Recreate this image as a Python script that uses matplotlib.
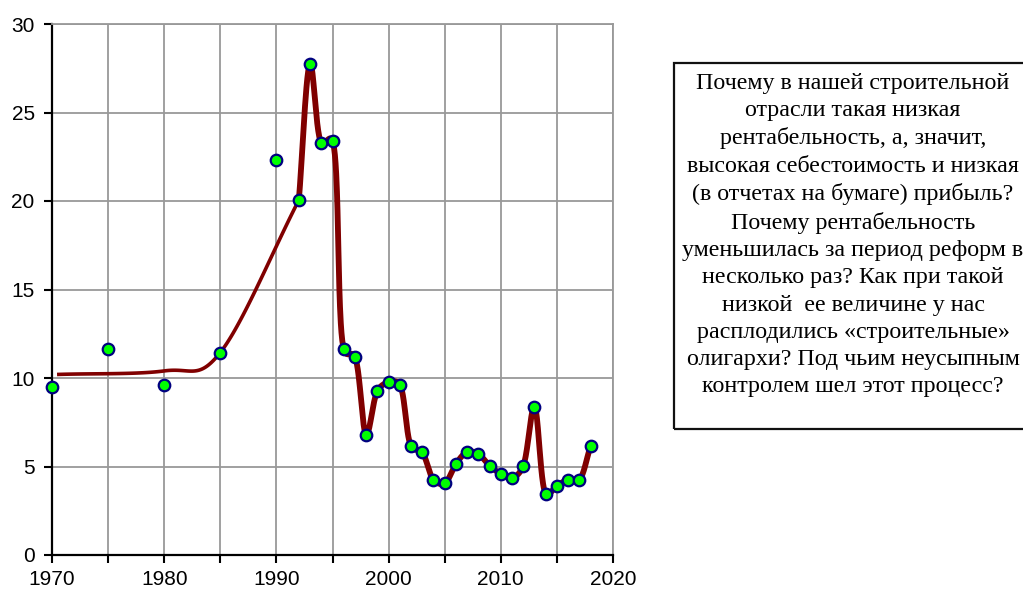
import numpy as np
import matplotlib
matplotlib.use("Agg")
import matplotlib.pyplot as plt
from matplotlib.patches import Rectangle

# values
point_years = [1970, 1975, 1980, 1985, 1990, 1992, 1993, 1994, 1995, 1996, 1997,
               1998, 1999, 2000, 2001, 2002, 2003, 2004, 2005, 2006, 2007, 2008,
               2009, 2010, 2011, 2012, 2013, 2014, 2015, 2016, 2017, 2018]
point_vals = [9.5, 11.65, 9.6, 11.44, 22.3, 20.05, 27.75, 23.28, 23.4, 11.65, 11.2,
              6.8, 9.27, 9.75, 9.62, 6.15, 5.8, 4.25, 4.04, 5.15, 5.82, 5.71,
              5.04, 4.59, 4.35, 5.04, 8.38, 3.47, 3.92, 4.25, 4.25, 6.16]

# thin trend curve (early years)
trend_years = [1970.45, 1980, 1985, 1992]
trend_vals = [10.2, 10.4, 11.44, 20.05]

# thick line: annual series from 1992
line_years = point_years[5:]
line_vals = point_vals[5:]

x_ticks = [1970, 1980, 1990, 2000, 2010, 2020]
y_ticks = [0, 5, 10, 15, 20, 25, 30]

note = ("Почему в нашей строительной\n"
        "отрасли такая низкая\n"
        "рентабельность, а, значит,\n"
        "высокая себестоимость и низкая\n"
        "(в отчетах на бумаге) прибыль?\n"
        "Почему рентабельность\n"
        "уменьшилась за период реформ в\n"
        "несколько раз? Как при такой\n"
        "низкой  ее величине у нас\n"
        "расплодились «строительные»\n"
        "олигархи? Под чьим неусыпным\n"
        "контролем шел этот процесс?")


def smooth(xs, ys, alpha=0.0, n=40):
    # smoothed line, Catmull-Rom in screen-like units
    sx, sy = 11.22, 17.7
    P = np.column_stack([np.asarray(xs, float) * sx, np.asarray(ys, float) * sy])
    P = np.vstack([2 * P[0] - P[1], P, 2 * P[-1] - P[-2]])
    out = []
    for i in range(1, len(P) - 2):
        p0, p1, p2, p3 = P[i - 1], P[i], P[i + 1], P[i + 2]
        t0 = 0.0
        t1 = t0 + np.linalg.norm(p1 - p0) ** alpha
        t2 = t1 + np.linalg.norm(p2 - p1) ** alpha
        t3 = t2 + np.linalg.norm(p3 - p2) ** alpha
        t = np.linspace(t1, t2, n)[:, None]
        a1 = (t1 - t) / (t1 - t0) * p0 + (t - t0) / (t1 - t0) * p1
        a2 = (t2 - t) / (t2 - t1) * p1 + (t - t1) / (t2 - t1) * p2
        a3 = (t3 - t) / (t3 - t2) * p2 + (t - t2) / (t3 - t2) * p3
        b1 = (t2 - t) / (t2 - t0) * a1 + (t - t0) / (t2 - t0) * a2
        b2 = (t3 - t) / (t3 - t1) * a2 + (t - t1) / (t3 - t1) * a3
        out.append((t2 - t) / (t2 - t1) * b1 + (t - t1) / (t2 - t1) * b2)
    out = np.vstack(out)
    return out[:, 0] / sx, out[:, 1] / sy


fig = plt.figure(figsize=(10.23, 5.89), dpi=100)
ax = fig.add_axes([52 / 1023, 34 / 589, 561 / 1023, 531 / 589])

red = "#800000"
tx, ty = smooth(trend_years, trend_vals, alpha=0.0)
ax.plot(tx, ty, color=red, lw=2.6, solid_capstyle="butt", zorder=3)
lx, ly = smooth(line_years, line_vals, alpha=0.3)
ax.plot(lx, ly, color=red, lw=4.2, solid_joinstyle="round", zorder=3)
ax.plot(point_years, point_vals, ls="none", marker="o", ms=8.3, mfc="#00ff00",
        mec="#000080", mew=1.6, zorder=4, clip_on=False)

ax.set_xlim(1970, 2020)
ax.set_ylim(0, 30)
ax.set_xticks(x_ticks)
ax.set_xticks(range(1975, 2020, 10), minor=True)
ax.set_yticks(y_ticks)
ax.grid(True, which="both", color="#999999", lw=1.3)
ax.set_axisbelow(True)
for side in ["top", "right"]:
    ax.spines[side].set_color("#999999")
    ax.spines[side].set_linewidth(1.3)
for side in ["left", "bottom"]:
    ax.spines[side].set_color("black")
    ax.spines[side].set_linewidth(1.6)
ax.tick_params(which="both", direction="out", length=5.5, width=1.5, color="black")
ax.tick_params(axis="y", labelsize=15, pad=7)
ax.tick_params(axis="x", labelsize=15, pad=5)
for lab in ax.get_xticklabels() + ax.get_yticklabels():
    lab.set_fontfamily("Liberation Sans")

box = Rectangle((674 / 1023, (589 - 429) / 589), 380 / 1023, 366 / 589,
                transform=fig.transFigure, fill=False, ec="#111111", lw=1.6)
fig.patches.append(box)
fig.text(853 / 1023, (589 - 235) / 589, note, ha="center", va="center",
         fontsize=17.3, family="Liberation Serif", linespacing=1.39)

fig.savefig("out.png", dpi=100)
